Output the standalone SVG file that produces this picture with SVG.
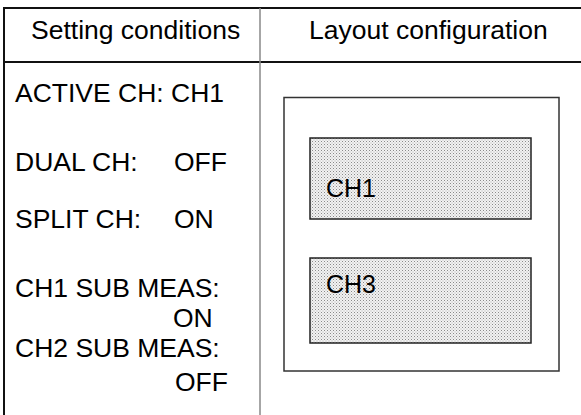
<svg xmlns="http://www.w3.org/2000/svg" width="581" height="415" viewBox="0 0 581 415">
  <style>
    .t { font-family: "Liberation Sans", Arial, sans-serif; font-size: 26.5px; fill: #000; }
    .lbl { font-family: "Liberation Sans", Arial, sans-serif; font-size: 25px; fill: #000; }
    .rule { stroke: #111; stroke-width: 2; fill: none; }
    .div { stroke: #888; stroke-width: 1.5; fill: none; }
    .frame { stroke: #333; stroke-width: 1.5; fill: #fff; }
    .pane { stroke: #222; stroke-width: 1.5; fill: url(#dots); }
  </style>
  <defs>
    <pattern id="dots" x="0" y="0" width="3" height="3" patternUnits="userSpaceOnUse">
      <rect width="3" height="3" fill="#f2f2f2"/>
      <rect x="0" y="0" width="1" height="1" fill="#8a8a8a"/>
      <rect x="1.5" y="1.5" width="1" height="1" fill="#b0b0b0"/>
    </pattern>
  </defs>
  <rect width="581" height="415" fill="#fff"/>
  <g id="table">
    <line class="rule" x1="4" y1="8" x2="581" y2="8"/>
    <line class="rule" x1="4" y1="62" x2="581" y2="62"/>
    <line class="rule" x1="4" y1="7" x2="4" y2="415"/>
    <line class="div" x1="260" y1="8" x2="260" y2="415"/>
    <text class="t" x="31" y="38.5">Setting conditions</text>
    <text class="t" x="309" y="39">Layout configuration</text>
  </g>
  <g id="settings">
    <text class="t" x="15" y="101.5">ACTIVE CH: CH1</text>
    <text class="t" x="15" y="170.5">DUAL CH:</text>
    <text class="t" x="174" y="170.5">OFF</text>
    <text class="t" x="15" y="228">SPLIT CH:</text>
    <text class="t" x="174" y="228">ON</text>
    <text class="t" x="15" y="296.5">CH1 SUB MEAS:</text>
    <text class="t" x="173" y="326.5">ON</text>
    <text class="t" x="15" y="357">CH2 SUB MEAS:</text>
    <text class="t" x="175" y="390.5">OFF</text>
  </g>
  <g id="layout">
    <rect class="frame" x="284" y="97.5" width="275" height="273.5"/>
  </g>
  <g id="ch1">
    <rect class="pane" x="310" y="138" width="221" height="81"/>
    <text class="lbl" x="326" y="197">CH1</text>
  </g>
  <g id="ch3">
    <rect class="pane" x="310" y="258" width="221" height="85"/>
    <text class="lbl" x="326" y="293">CH3</text>
  </g>
  <g id="connectors"/>
</svg>
